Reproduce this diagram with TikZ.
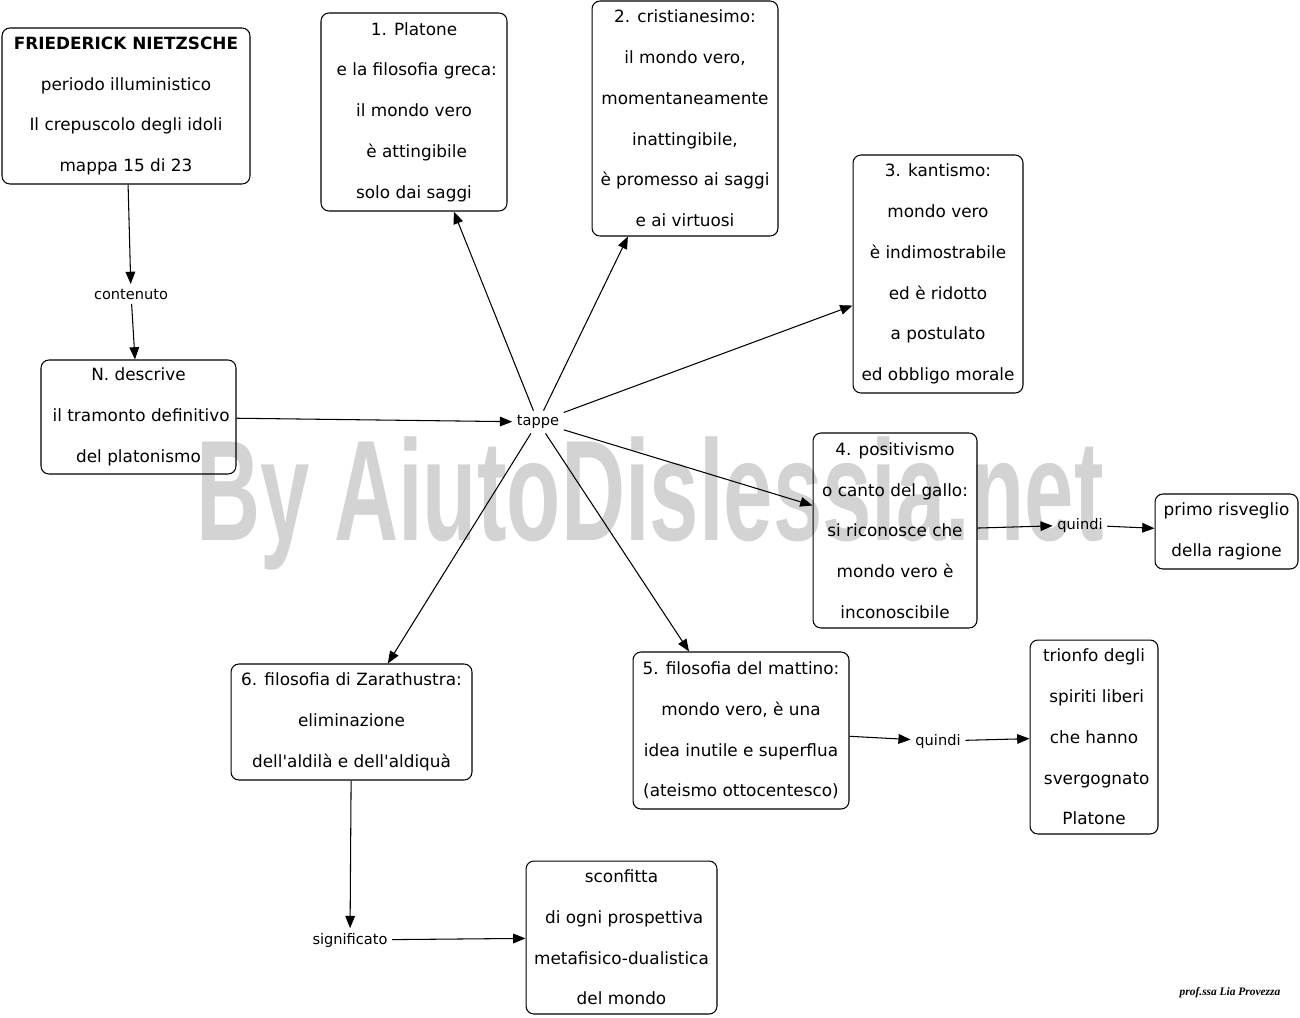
\documentclass[tikz,border=0pt]{standalone}
\usepackage{fontspec}
\setmainfont{DejaVu Sans}
\newfontfamily\marchio{Liberation Sans}
\newfontfamily\firma{Liberation Serif}
\usepackage{tikz}
\definecolor{gray300}{HTML}{D3D3D3}
\usetikzlibrary{arrows.meta}
\tikzstyle{concetto}=[draw=black, line width=0.6pt, rounded corners=4.5pt, inner sep=0pt, align=center, font=\fontsize{9.6}{23.2}\selectfont]
\tikzstyle{legame}=[inner sep=2.5pt, font=\fontsize{8.3}{10}\selectfont]
\tikzstyle{freccia}=[draw=black, line width=0.6pt, -{Triangle[length=7pt,width=5.5pt]}]

\begin{document}
\begin{tikzpicture}[x=0.02cm, y=-0.02cm]
	\useasboundingbox (0,0) rectangle (1300,1017);
	% scritta di sfondo
	\node[anchor=base, text=gray300, inner sep=0pt, font=\marchio\bfseries\fontsize{81.5}{90}\selectfont] (wm) at (650,540) {\scalebox{0.62}[1]{By AiutoDislessia.net}};
	% concetti
	\node[concetto, minimum width=4.96cm, minimum height=3.12cm] (fn) at (126,106) {\textbf{FRIEDERICK NIETZSCHE}\\periodo illuministico\\Il crepuscolo degli idoli\\mappa 15 di 23};
	\node[concetto, minimum width=3.72cm, minimum height=3.96cm] (platone) at (414,112) {1. Platone\\\ e la filosofia greca:\\il mondo vero\\\ è attingibile\\solo dai saggi};
	\node[concetto, minimum width=3.72cm, minimum height=4.70cm] (cristianesimo) at (685,118.5) {2. cristianesimo:\\il mondo vero,\\momentaneamente\\inattingibile,\\è promesso ai saggi\\e ai virtuosi};
	\node[concetto, minimum width=3.40cm, minimum height=4.76cm] (kantismo) at (938,274) {3. kantismo:\\mondo vero\\è indimostrabile\\ed è ridotto\\a postulato\\ed obbligo morale};
	\node[concetto, minimum width=3.90cm, minimum height=2.28cm] (descrive) at (138.5,417) {N. descrive\\\ il tramonto definitivo\\del platonismo};
	\node[concetto, minimum width=3.28cm, minimum height=3.90cm] (positivismo) at (895,530.5) {4. positivismo\\o canto del gallo:\\si riconosce che\\mondo vero è\\inconoscibile};
	\node[concetto, minimum width=2.86cm, minimum height=1.50cm] (risveglio) at (1226.5,531.5) {primo risveglio\\della ragione};
	\node[concetto, minimum width=4.82cm, minimum height=2.32cm] (zarathustra) at (351.5,722) {6. filosofia di Zarathustra:\\eliminazione\\dell\textquotesingle aldilà e dell\textquotesingle aldiquà};
	\node[concetto, minimum width=4.32cm, minimum height=3.14cm] (mattino) at (741,730.5) {5. filosofia del mattino:\\mondo vero, è una\\idea inutile e superflua\\(ateismo ottocentesco)};
	\node[concetto, minimum width=2.56cm, minimum height=3.88cm] (trionfo) at (1094,737) {trionfo degli\\\ spiriti liberi\\che hanno\\\ svergognato\\Platone};
	\node[concetto, minimum width=3.82cm, minimum height=3.06cm] (sconfitta) at (621.5,937.5) {sconfitta\\\ di ogni prospettiva\\metafisico-dualistica\\del mondo};
	% legami
	\node[legame] (contenuto) at (131,294) {contenuto};
	\node[legame] (tappe) at (538,422) {tappe};
	\node[legame] (quindi1) at (1080,525) {quindi};
	\node[legame] (quindi2) at (938,741) {quindi};
	\node[legame] (significato) at (350,940) {significato};
	% frecce
	\path[freccia] (fn) -- (contenuto);
	\path[freccia] (contenuto) -- (descrive);
	\path[freccia] (descrive) -- (tappe);
	\path[freccia] (tappe) -- (platone);
	\path[freccia] (tappe) -- (cristianesimo);
	\path[freccia] (tappe) -- (kantismo);
	\path[freccia] (tappe) -- (positivismo);
	\path[freccia] (tappe) -- (mattino);
	\path[freccia] (tappe) -- (zarathustra);
	\path[freccia] (positivismo) -- (quindi1);
	\path[freccia] (quindi1) -- (risveglio);
	\path[freccia] (mattino) -- (quindi2);
	\path[freccia] (quindi2) -- (trionfo);
	\path[freccia] (zarathustra) -- (significato);
	\path[freccia] (significato) -- (sconfitta);
	% firma
	\node[inner sep=0pt, font=\firma\bfseries\itshape\fontsize{6.5}{8}\selectfont] (firma) at (1230,993) {prof.ssa Lia Provezza};
\end{tikzpicture}
\end{document}
